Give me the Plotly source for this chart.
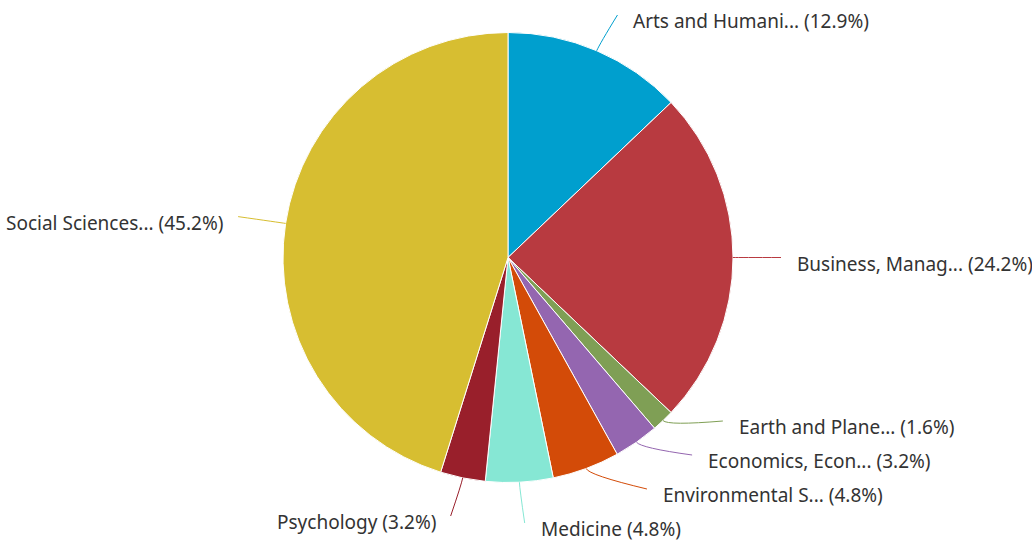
import math
import plotly.graph_objects as go

labels = ["Arts and Humani...", "Business, Manag...", "Earth and Plane...", "Economics, Econ...",
          "Environmental S...", "Medicine", "Psychology", "Social Sciences..."]
counts = [8, 15, 1, 2, 3, 3, 2, 28]
colors = ["#009FCE", "#B83A40", "#7F9F55", "#9466B0", "#D34B08", "#86E7D4", "#991F2B", "#D7BE31"]

W, H = 1032, 544
CX, CY, R = 508.0, 257.5, 225.0
RL = 270.0  # connector end radius
GAP = 14
MIN_SP = 34
TOP = 15
BOT = {True: 523, False: 516}

def px(x):
    return x / W

def py(y):
    return 1 - y / H

total = sum(counts)
pcts = [c / total * 100 for c in counts]
cum = 0
info = []
for i, c in enumerate(counts):
    mid = (cum + c / 2) / total * 2 * math.pi
    cum += c
    s, co = math.sin(mid), math.cos(mid)
    info.append(dict(i=i, s=s, c=co, right=s >= 0,
                     ny=CY - RL * co, nx=CX + RL * s))

for side in (True, False):
    items = sorted([d for d in info if d["right"] == side], key=lambda d: d["ny"])
    ys = [min(max(d["ny"], TOP), BOT[side]) for d in items]
    for k in range(len(ys) - 2, -1, -1):
        ys[k] = min(ys[k], ys[k + 1] - MIN_SP)
    for k in range(1, len(ys)):
        ys[k] = max(ys[k], ys[k - 1] + MIN_SP)
    for d, y in zip(items, ys):
        d["y"] = y
        if abs(y - d["ny"]) < 10:
            d["x"] = d["nx"] + (3 if side else -3)
        else:
            dx = math.sqrt(max(RL ** 2 - (y - CY) ** 2, 0))
            d["x"] = CX + dx if side else CX - dx

fig = go.Figure(go.Pie(
    labels=labels, values=counts, sort=False, direction="clockwise", rotation=0,
    marker=dict(colors=colors, line=dict(color="white", width=1)),
    textinfo="none", hoverinfo="label+percent", showlegend=False,
    domain=dict(x=[px(CX - R), px(CX + R)], y=[py(CY + R), py(CY - R)]),
))

shapes = []
annotations = []
B = 7
for d in info:
    i = d["i"]
    ex, ey = CX + R * d["s"], CY - R * d["c"]
    qx, qy = CX + (R + B) * d["s"], CY - (R + B) * d["c"]
    lx, ly = d["x"], d["y"]
    path = f"M {px(ex)},{py(ey)} Q {px(qx)},{py(qy)} {px(lx)},{py(ly)}"
    shapes.append(dict(type="path", path=path, xref="paper", yref="paper",
                       line=dict(color=colors[i], width=1)))
    tx = lx + GAP if d["right"] else lx - (GAP - 1)
    annotations.append(dict(
        x=px(tx), y=py(ly + 6), xref="paper", yref="paper",
        text=f"{labels[i]} ({pcts[i]:.1f}%)", showarrow=False,
        xanchor="left" if d["right"] else "right", yanchor="middle",
        font=dict(family="Noto Sans, sans-serif", size=19, color="#333333"),
    ))

fig.update_layout(
    width=W, height=H, margin=dict(l=0, r=0, t=0, b=0),
    paper_bgcolor="white", plot_bgcolor="white",
    shapes=shapes, annotations=annotations,
)
fig.write_html("out.html", post_script="document.body.style.margin='0';",
               config={"displayModeBar": False})
